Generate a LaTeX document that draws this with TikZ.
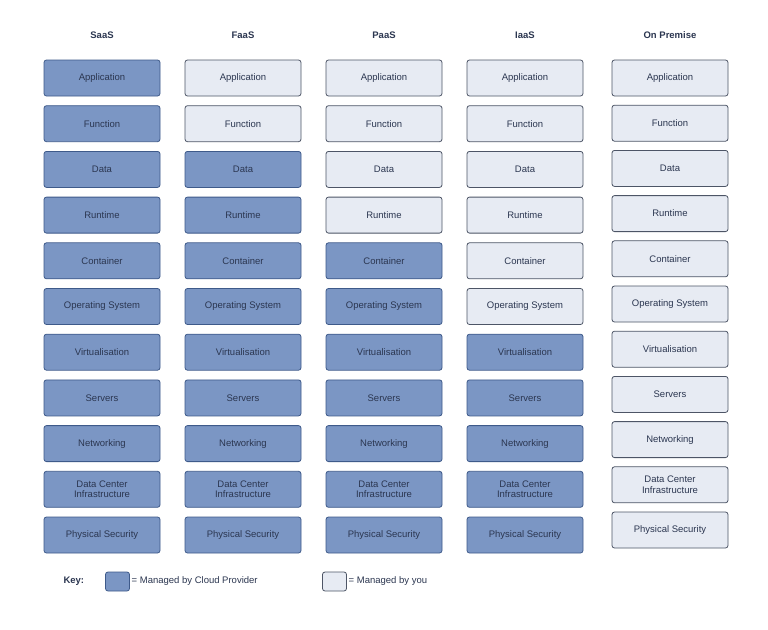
\documentclass[tikz,border=0pt]{standalone}
\usepackage{fontspec}
\setmainfont{Liberation Sans}
\begin{document}
\begin{tikzpicture}[x=1pt,y=-1pt,
  base/.style={rounded corners=2.5pt,line width=0.8pt,minimum width=116pt,minimum height=36pt,align=center,font=\fontsize{9.5}{10.5}\selectfont,text=txt,inner sep=1pt},
  dark/.style={base,fill=dfill,draw=dborder},
  light/.style={base,fill=lfill,draw=lborder},
  head/.style={font=\bfseries\fontsize{9.5}{11}\selectfont,text=txt}]
\definecolor{dfill}{HTML}{7B96C4}
\definecolor{dborder}{HTML}{3E5A8A}
\definecolor{lfill}{HTML}{E7EBF3}
\definecolor{lborder}{HTML}{4D5566}
\definecolor{txt}{HTML}{2B3650}
\useasboundingbox (0,0) rectangle (768,629);
\fill[white] (0,0) rectangle (768,629);
\def\items{Application,Function,Data,Runtime,Container,Operating System,Virtualisation,Servers,Networking,Data Center\\Infrastructure,Physical Security}
\foreach \cx/\nm/\k/\c in {102/SaaS/0/a,243/FaaS/2/b,384/PaaS/4/c,525/IaaS/6/d}{
  \node[head] (h\c) at (\cx,35) {\nm};
  \foreach \t [count=\i from 0] in \items {
    \ifnum\i<\k \node[light] (\c\i) at (\cx,78+45.7*\i) {\t};
    \else \node[dark] (\c\i) at (\cx,78+45.7*\i) {\t}; \fi
  }
}
\node[head] (he) at (670,35) {On Premise};
\foreach \t [count=\i from 0] in \items {
  \node[light] (e\i) at (670,78+45.2*\i) {\t};
}
\node[head,anchor=west] (key) at (60,581) {Key:};
\node[dark,minimum width=24pt,minimum height=19pt] (kd) at (117.5,581.5) {};
\node[anchor=west,font=\fontsize{9.5}{11}\selectfont,text=txt,inner sep=0pt] (kdt) at (kd.east) {\,= Managed by Cloud Provider};
\node[light,minimum width=24pt,minimum height=19pt] (kl) at (334.5,581.5) {};
\node[anchor=west,font=\fontsize{9.5}{11}\selectfont,text=txt,inner sep=0pt] (klt) at (kl.east) {\,= Managed by you};
\end{tikzpicture}
\end{document}
